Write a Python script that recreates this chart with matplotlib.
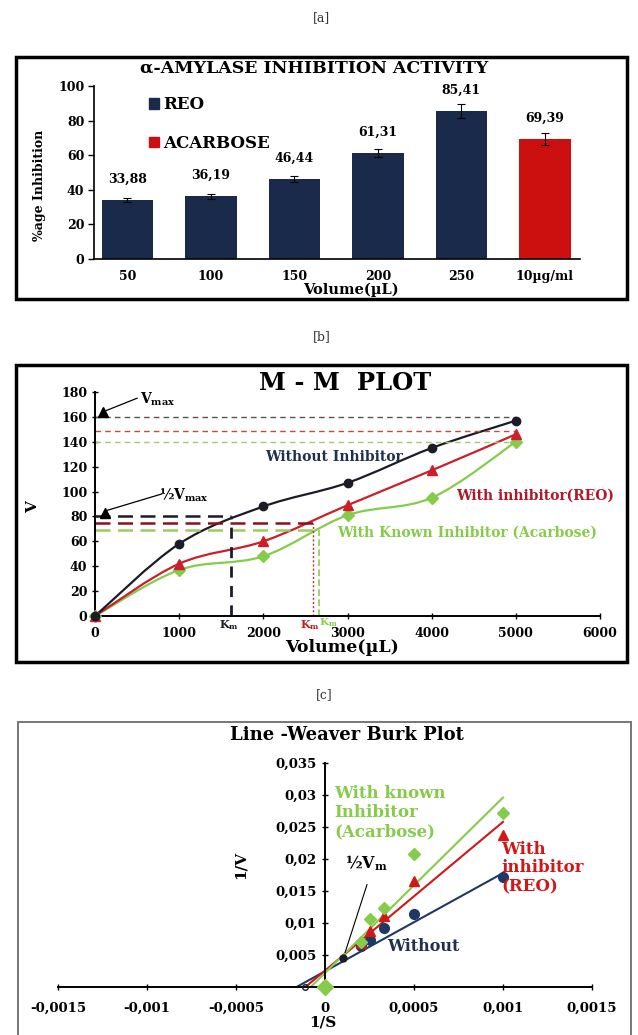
"""Enzyme inhibition figure: bar chart, Michaelis-Menten plot and Lineweaver-Burk plot."""

import numpy as np
import matplotlib
matplotlib.use("Agg")
import matplotlib.pyplot as plt
from matplotlib.patches import Patch, Rectangle, PathPatch
from matplotlib.path import Path

# ---- data -------------------------------------------------------------
bar_labels = ["50", "100", "150", "200", "250", "10µg/ml"]
bar_values = [33.88, 36.19, 46.44, 61.31, 85.41, 69.39]
bar_errors = [1.2, 1.3, 1.8, 2.5, 4.0, 3.5]
bar_value_text = ["33,88", "36,19", "46,44", "61,31", "85,41", "69,39"]

mm_volume = [0, 1000, 2000, 3000, 4000, 5000]
mm_without = [0, 58, 88, 107, 135, 157]
mm_reo = [0, 42, 60, 89, 117, 146]
mm_acarbose = [0, 37, 48, 81, 95, 140]

# Vmax and half-Vmax guide levels, Km positions
vmax_levels = [160, 149, 140]
half_vmax_levels = [80, 75, 69]
km_values = [1610, 2590, 2660]

lb_inv_s = [0.001, 0.0005, 0.000333, 0.00025, 0.0002]
lb_without = [0.0172, 0.0114, 0.0092, 0.0074, 0.0064]
lb_reo = [0.0237, 0.0166, 0.0111, 0.0087, 0.0068]
lb_acarbose = [0.0272, 0.0208, 0.0124, 0.0106, 0.0071]
# trend line end points (x from x-intercept to 0.001)
trend_x = {"without": [-0.00016, 0.001], "reo": [-0.00011, 0.001], "acarbose": [-0.00008, 0.001]}
trend_y = {"without": [0.0, 0.0178], "reo": [0.0, 0.0258], "acarbose": [0.0, 0.0296]}

lb_xticks = [-0.0015, -0.001, -0.0005, 0, 0.0005, 0.001, 0.0015]
lb_xticklabels = ["-0,0015", "-0,001", "-0,0005", "0", "0,0005", "0,001", "0,0015"]
lb_yticks = [0.005, 0.01, 0.015, 0.02, 0.025, 0.03, 0.035]
lb_yticklabels = ["0,005", "0,01", "0,015", "0,02", "0,025", "0,03", "0,035"]

# ---- style ------------------------------------------------------------
NAVY = "#1a2a4a"
RED = "#cc1010"
GREEN = "#86cc4a"
DARK = "#1c1c28"

W, H = 638, 1035
plt.rcParams["font.family"] = ["DejaVu Serif"]
plt.rcParams["font.weight"] = "bold"
plt.rcParams["mathtext.fontset"] = "dejavuserif"

fig = plt.figure(figsize=(W / 100, H / 100), dpi=100)


def px_axes(x0, y0, x1, y1):
    return fig.add_axes([x0 / W, 1 - y1 / H, (x1 - x0) / W, (y1 - y0) / H])


def ftext(x, y, s, **kw):
    kw.setdefault("ha", "center")
    kw.setdefault("va", "center")
    return fig.text(x / W, 1 - y / H, s, **kw)


def frame(x0, y0, x1, y1, lw=2.2, color="black"):
    fig.patches.append(Rectangle((x0 / W, 1 - y1 / H), (x1 - x0) / W, (y1 - y0) / H,
                                 transform=fig.transFigure, fill=False,
                                 lw=lw, edgecolor=color, clip_on=False))


def smooth_path(xs, ys):
    pts = np.column_stack([xs, ys]).astype(float)
    verts, codes = [pts[0]], [Path.MOVETO]
    for i in range(len(pts) - 1):
        p0 = pts[i - 1] if i > 0 else pts[i]
        p1, p2 = pts[i], pts[i + 1]
        p3 = pts[i + 2] if i + 2 < len(pts) else pts[i + 1]
        verts += [p1 + (p2 - p0) / 6, p2 - (p3 - p1) / 6, p2]
        codes += [Path.CURVE4] * 3
    return Path(verts, codes)


# panel labels and frames
ftext(322, 18, "[a]", fontsize=9, fontweight="normal", color="#333333")
ftext(322, 337, "[b]", fontsize=9, fontweight="normal", color="#333333")
ftext(324, 695, "[c]", fontsize=9, fontweight="normal", color="#333333")
frame(16, 57, 627, 299, lw=2.5)
frame(16, 365, 627, 662, lw=2.5)
frame(18, 722, 631, 1060, lw=1.4, color="#777777")

# ---- [a] bar chart ----------------------------------------------------
ax = px_axes(94, 86, 580, 259)
x = np.arange(len(bar_values))
colors = [NAVY] * 5 + [RED]
ax.bar(x, bar_values, width=0.62, color=colors)
ax.errorbar(x, bar_values, yerr=bar_errors, fmt="none", ecolor="black",
            elinewidth=0.8, capsize=3, capthick=0.8)
for xi, v, t in zip(x, bar_values, bar_value_text):
    ax.text(xi, v + 12, t, ha="center", va="center", fontsize=9)
ax.set_xlim(-0.4, 5.42)
ax.set_ylim(0, 100)
ax.set_yticks(range(0, 101, 20))
ax.set_xticks(x, bar_labels)
ax.tick_params(axis="x", length=0, pad=8, labelsize=9)
ax.tick_params(axis="y", length=4, width=1, labelsize=9, pad=3)
for s in ["top", "right"]:
    ax.spines[s].set_visible(False)
for s in ["left", "bottom"]:
    ax.spines[s].set_linewidth(1.2)
ax.legend(handles=[Patch(color=NAVY), Patch(color=RED)], labels=["REO", "ACARBOSE"],
          loc="upper left", bbox_to_anchor=(0.1, 0.98), frameon=False,
          handlelength=0.6, handleheight=0.6, handletextpad=0.25,
          labelspacing=1.3, borderaxespad=0, prop={"size": 12, "weight": "bold"})
ftext(314, 68, "α-AMYLASE INHIBITION ACTIVITY", fontsize=12.5)
ftext(39, 185, "%age Inhibition", fontsize=9, rotation=90)
ftext(351, 290, "Volume(µL)", fontsize=10.5)

# ---- [b] Michaelis-Menten plot ---------------------------------------
ax = px_axes(95, 392, 600, 616)
ax.set_xlim(0, 6000)
ax.set_ylim(0, 180)

# guide lines
ax.hlines(vmax_levels, 0, 5000, colors=["#555555", "#c04848", "#9ccc70"],
          linestyles=(0, (4, 3)), lw=1.0)
for lvl, km, c in zip(half_vmax_levels, km_values, [DARK, "#8a1020", "#9acc60"]):
    ax.hlines(lvl, 0, km, colors=c, linestyles=(0, (6, 3)), lw=1.8)
ax.vlines(km_values[0], 0, half_vmax_levels[0], colors=DARK, linestyles=(0, (4, 3)), lw=2.0)
ax.vlines(km_values[1], 0, half_vmax_levels[1], colors="#c03030", linestyles=(0, (1.5, 1.5)), lw=1.0)
ax.vlines(km_values[2], 0, half_vmax_levels[2], colors="#8ccc50", linestyles=(0, (4, 2)), lw=1.2)

for ys, c, m, ms in [(mm_acarbose, GREEN, "D", 6), (mm_reo, "#cc1f2a", "^", 7),
                     (mm_without, DARK, "o", 6)]:
    ax.add_patch(PathPatch(smooth_path(mm_volume, ys), fill=False, edgecolor=c, lw=1.6))
    ax.plot(mm_volume, ys, ls="none", marker=m, ms=ms, color=c, clip_on=False, zorder=4)

# Vmax / half Vmax pointers
ax.plot([91, 119], [164, 83], ls="none", marker="^", ms=7, color="black", clip_on=False)
ax.plot([130, 500], [165, 175], color="black", lw=0.9)
ax.plot([150, 790], [85, 98], color="black", lw=0.9)
ax.text(530, 174, r"$\mathbf{V_{max}}$", fontsize=10, va="center")
ax.text(760, 97, r"½$\mathbf{V_{max}}$", fontsize=10, va="center")

ax.text(2840, 128, "Without Inhibitor", color="#1f3050", fontsize=10, ha="center", va="center")
ax.text(5230, 97, "With inhibitor(REO)", color="#b01828", fontsize=10, ha="center", va="center")
ax.text(4420, 67, "With Known Inhibitor (Acarbose)", color=GREEN, fontsize=10,
        ha="center", va="center")
ax.text(1590, -7, r"$\mathbf{K_m}$", color=DARK, fontsize=8, ha="center", va="center")
ax.text(2550, -7, r"$\mathbf{K_m}$", color="#c02020", fontsize=8, ha="center", va="center")
ax.text(2770, -5.5, r"$\mathbf{K_m}$", color=GREEN, fontsize=7.5, ha="center", va="center")

ax.set_xticks(range(0, 6001, 1000))
ax.set_yticks(range(0, 181, 20))
ax.tick_params(axis="both", direction="inout", length=4, width=1, labelsize=9)
ax.tick_params(axis="x", pad=6)
for s in ["top", "right"]:
    ax.spines[s].set_visible(False)
for s in ["left", "bottom"]:
    ax.spines[s].set_linewidth(1.4)
ftext(345, 383, "M - M  PLOT", fontsize=17.5)
ftext(33, 507, "V", fontsize=11, rotation=90)
ftext(342, 648, "Volume(µL)", fontsize=12.5)

# ---- [c] Lineweaver-Burk plot ----------------------------------------
ax = px_axes(58, 763, 592, 987)
ax.set_xlim(-0.0015, 0.0015)
ax.set_ylim(0, 0.035)
ax.spines["left"].set_position(("data", 0))
for s in ["top", "right"]:
    ax.spines[s].set_visible(False)
for s in ["left", "bottom"]:
    ax.spines[s].set_linewidth(1.4)

for key, c in [("without", "#1f3864"), ("reo", "#d01818"), ("acarbose", GREEN)]:
    ax.plot(trend_x[key], trend_y[key], color=c, lw=1.5)
ax.plot(lb_inv_s, lb_without, ls="none", marker="o", ms=7, color="#1f3864")
ax.plot(lb_inv_s, lb_reo, ls="none", marker="^", ms=7, color="#d01818")
ax.plot(lb_inv_s, lb_acarbose, ls="none", marker="D", ms=6, color=GREEN)
ax.plot([0.0001], [0.0045], ls="none", marker="o", ms=5, color=DARK)
ax.plot([0], [0], ls="none", marker="D", ms=8, color=GREEN, clip_on=False, zorder=5)
ax.plot([-0.00011], [0], ls="none", marker="o", ms=4, mfc="none", mec=DARK,
        clip_on=False, zorder=5)

ax.plot([0.000236, 0.000113], [0.016, 0.0054], color="black", lw=0.8)
ax.text(0.00011, 0.0193, r"½$\mathbf{V_m}$", fontsize=11.5, va="center")
ax.text(0.00035, 0.0064, "Without", color="#1f3050", fontsize=11.5, va="center")
ax.text(0.00005, 0.0272, "With known\nInhibitor\n(Acarbose)", color=GREEN, fontsize=12,
        va="center", linespacing=1.15)
ax.text(0.00099, 0.0186, "With\ninhibitor\n(REO)", color="#d01818", fontsize=12,
        va="center", linespacing=1.15)

ax.set_xticks(lb_xticks, lb_xticklabels)
ax.set_yticks(lb_yticks, lb_yticklabels)
ax.tick_params(axis="both", direction="inout", length=5, width=1, labelsize=9.5)
ax.tick_params(axis="x", pad=8)
ftext(347, 735, "Line -Weaver Burk Plot", fontsize=13)
ftext(241, 865, "1/V", fontsize=11, rotation=90)
ftext(323, 1022, "1/S", fontsize=11)

fig.savefig("out.png", dpi=100)
